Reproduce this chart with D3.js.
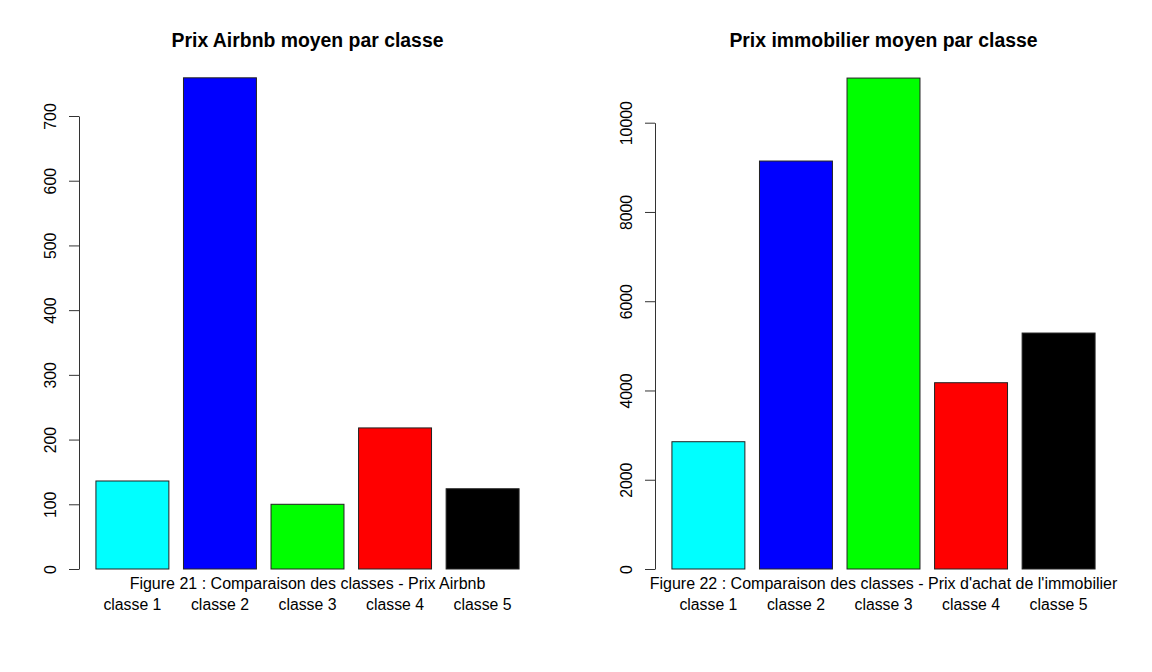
<!DOCTYPE html>
<html>
<head>
<meta charset="utf-8">
<script src="https://cdn.jsdelivr.net/npm/d3@7"></script>
<style>
  html, body { margin: 0; padding: 0; background: #fff; }
  svg { display: block; }
  text { font-family: "Liberation Sans", Arial, Helvetica, sans-serif; fill: #000; }
</style>
</head>
<body>
<svg id="chart" width="1152" height="672"></svg>
<script>
const categories = ["classe 1", "classe 2", "classe 3", "classe 4", "classe 5"];
const colors = ["#00ffff", "#0000ff", "#00ff00", "#ff0000", "#000000"];
const airbnbValues = [136, 759, 100, 218, 124];
const immoValues = [2852, 9141, 11000, 4174, 5287];
const airbnbTicks = [0, 100, 200, 300, 400, 500, 600, 700];
const immoTicks = [0, 2000, 4000, 6000, 8000, 10000];
const titles = ["Prix Airbnb moyen par classe", "Prix immobilier moyen par classe"];
const captions = ["Figure 21 : Comparaison des classes - Prix Airbnb",
                  "Figure 22 : Comparaison des classes - Prix d'achat de l'immobilier"];

const svg = d3.select("#chart");

function panel(left, right, values, ticks, topTick, title, caption) {
  const g = svg.append("g");
  const bottom = 569;
  // R-style user coordinates: bars at 0.2..1.2, 1.4..2.4, ... with 4% expansion
  const u = d3.scaleLinear().domain([-0.032, 6.232]).range([left, right]);
  const x = d3.scaleBand().domain(categories)
    .range([u(0.2), u(6.0)]).paddingInner(0.2 / 1.2).paddingOuter(0);
  const y = d3.scaleLinear().domain([0, ticks[ticks.length - 1]]).range([bottom, topTick]);

  g.selectAll("rect.bar").data(values).join("rect")
    .attr("class", "bar")
    .attr("x", (d, i) => x(categories[i]))
    .attr("width", x.bandwidth())
    .attr("y", d => y(d))
    .attr("height", d => y(0) - y(d))
    .attr("fill", (d, i) => colors[i])
    .attr("stroke", "#222")
    .attr("stroke-width", 1);

  const ax = g.append("g")
    .attr("transform", `translate(${left},0)`)
    .call(d3.axisLeft(y).tickValues(ticks).tickSize(10).tickSizeOuter(0).tickFormat(d3.format("d")));
  ax.select(".domain").attr("stroke", "#333").attr("stroke-width", 1);
  ax.selectAll(".tick line").attr("stroke", "#333");
  ax.selectAll(".tick text")
    .attr("x", 0).attr("y", -23).attr("dy", 0)
    .attr("transform", "rotate(-90)")
    .attr("text-anchor", "middle")
    .style("font-size", "15.8px")
    .style("font-family", "'Liberation Sans', Arial, sans-serif")
    .attr("fill", "#000");

  const cx = (left + right) / 2;
  g.append("text").attr("x", cx).attr("y", 47)
    .attr("text-anchor", "middle")
    .style("font-size", "19.4px").style("font-weight", "bold")
    .text(title);

  g.append("text").attr("x", cx).attr("y", 589)
    .attr("text-anchor", "middle")
    .style("font-size", "16px")
    .text(caption);

  g.selectAll("text.cat").data(categories).join("text")
    .attr("class", "cat")
    .attr("x", d => x(d) + x.bandwidth() / 2)
    .attr("y", 610)
    .attr("text-anchor", "middle")
    .style("font-size", "15.8px")
    .text(d => d);
}

panel(79, 536, airbnbValues, airbnbTicks, 116, titles[0], captions[0]);
panel(655, 1112, immoValues, immoTicks, 122.7, titles[1], captions[1]);
</script>
</body>
</html>
